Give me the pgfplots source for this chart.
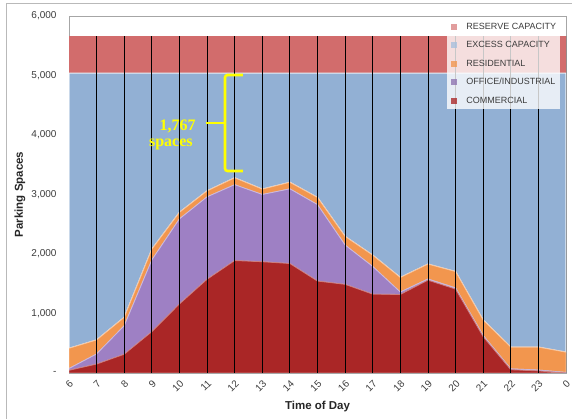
\documentclass[border=0pt]{standalone}
\usepackage{pgfplots}
\pgfplotsset{compat=1.18}
\usepackage{pgfplotstable}
\usepackage{fontspec}
\setmainfont{Liberation Sans}
\newfontfamily\serifb{Liberation Serif}
\definecolor{reserve}{RGB}{210,108,108}
\definecolor{excess}{RGB}{146,176,212}
\definecolor{resid}{RGB}{242,150,78}
\definecolor{office}{RGB}{158,128,196}
\definecolor{comm}{RGB}{170,38,38}
\definecolor{gridc}{RGB}{70,90,120}
\definecolor{ticktext}{RGB}{60,60,60}
\definecolor{bracecol}{RGB}{255,255,0}

\pgfplotstableread{
x C O R E S
0 45 30 340 4625 620
1 150 170 235 4485 620
2 315 480 140 4105 620
3 695 1205 180 2960 620
4 1160 1430 110 2340 620
5 1575 1385 100 1980 620
6 1890 1275 115 1760 620
7 1870 1130 90 1950 620
8 1840 1255 110 1835 620
9 1545 1285 120 2090 620
10 1490 660 145 2745 620
11 1325 465 190 3060 620
12 1320 40 245 3435 620
13 1560 20 250 3210 620
14 1410 20 275 3335 620
15 610 20 260 4150 620
16 55 15 365 4605 620
17 35 15 385 4605 620
18 0 10 340 4690 620
}\datatable

\begin{document}
\begin{tikzpicture}
\useasboundingbox (0pt,0pt) rectangle (572pt,419pt);
\draw[gray!55, line width=1pt] (6pt,-2pt) -- (6pt,415pt) -- (574pt,415pt);
\begin{axis}[
  at={(69pt,46pt)}, anchor=south west,
  scale only axis, width=497pt, height=357pt,
  xmin=0, xmax=18, ymin=0, ymax=6000,
  stack plots=y,
  xtick={0,...,18},
  xticklabels={6,7,8,9,10,11,12,13,14,15,16,17,18,19,20,21,22,23,0},
  ytick={0,1000,2000,3000,4000,5000,6000},
  yticklabels={-,{1,000},{2,000},{3,000},{4,000},{5,000},{6,000}},
  major tick length=0pt,
  ymajorgrids,
  grid style={gridc, line width=0.6pt},
  axis line style={gray!70, line width=0.8pt},
  tick label style={font=\fontsize{10}{12}\selectfont, text=ticktext},
  xticklabel style={rotate=45, anchor=east, yshift=-8pt, xshift=-1pt},
  yticklabel style={xshift=-9pt},
  xlabel={\bfseries Time of Day},
  ylabel={\bfseries Parking Spaces},
  every axis x label/.style={at={(axis description cs:0.5,-0.095)}, anchor=center, font=\fontsize{11.5}{13}\selectfont, text=black!85},
  every axis y label/.style={at={(axis description cs:-0.0986,0.5)}, rotate=90, anchor=center, font=\fontsize{11.5}{13}\selectfont, text=black!85},
]
\addplot[fill=comm, draw=comm!60!white, line width=0.8pt] table[x=x,y=C] {\datatable} \closedcycle;
\addplot[fill=office, draw=office!55!white, line width=0.8pt] table[x=x,y=O] {\datatable} \closedcycle;
\addplot[fill=resid, draw=resid!55!white, line width=0.8pt] table[x=x,y=R] {\datatable} \closedcycle;
\addplot[fill=excess, draw=white!80!excess, line width=1.2pt] table[x=x,y=E] {\datatable} \closedcycle;
\addplot[fill=reserve, draw=none] table[x=x,y=S] {\datatable} \closedcycle;
\end{axis}
\begin{axis}[
  at={(69pt,46pt)}, anchor=south west,
  scale only axis, width=497pt, height=357pt,
  xmin=0, xmax=18, ymin=0, ymax=6000,
  hide axis,
  legend image code/.code={\fill[#1, draw=none] (0pt,-3pt) rectangle (6pt,3pt);},
  legend style={at={(axis description cs:0.761,0.9937)}, anchor=north west,
    fill=white, fill opacity=0.78, text opacity=1, draw=none,
    inner sep=4pt, column sep=9pt, row sep=9.5pt,
    font=\fontsize{9}{10}\selectfont, text=ticktext,
    nodes={inner sep=0pt, text height=7pt, text depth=2pt}},
  legend cell align=left,
]
\addplot[ycomb, black, line width=0.8pt, mark=none, forget plot] coordinates {
(1,5660) (2,5660) (3,5660) (4,5660) (5,5660) (6,5660) (7,5660) (8,5660) (9,5660)
(10,5660) (11,5660) (12,5660) (13,5660) (14,5660) (15,5660) (16,5660) (17,5660) (18,5660)};
\draw[bracecol, line width=2.6pt, rounded corners=2.5pt]
  (axis cs:6.30,5008) -- (axis cs:5.65,5008) -- (axis cs:5.65,3395) -- (axis cs:6.30,3395);
\draw[bracecol, line width=2.6pt] (axis cs:4.96,4202) -- (axis cs:5.65,4202);
\node[text=bracecol, font=\serifb\bfseries\fontsize{16}{17}\selectfont, anchor=center] at (axis cs:3.93,4146) {1,767};
\node[text=bracecol, font=\serifb\bfseries\fontsize{16}{17}\selectfont, anchor=center] at (axis cs:3.69,3845) {spaces};
\addlegendimage{fill=reserve!85!white, draw=none}
\addlegendentry{RESERVE CAPACITY}
\addlegendimage{fill=excess!80!white, draw=none}
\addlegendentry{EXCESS CAPACITY}
\addlegendimage{fill=resid, draw=none}
\addlegendentry{RESIDENTIAL}
\addlegendimage{fill=office!90!black, draw=none}
\addlegendentry{OFFICE/INDUSTRIAL}
\addlegendimage{fill=comm, draw=none}
\addlegendentry{COMMERCIAL}
\end{axis}
\end{tikzpicture}
\end{document}
